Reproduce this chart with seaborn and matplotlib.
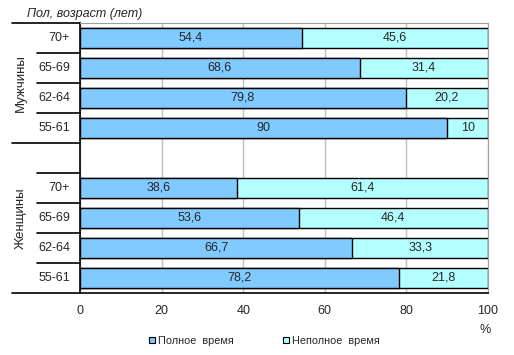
#!/usr/bin/env python3

# plot.py
#
# Stacked horizontal bars: full vs part time employment by sex and age.
import matplotlib
matplotlib.use('Agg')
import matplotlib.pyplot as plt
import matplotlib.patches as mpatches
import pandas as pd
import seaborn as sb

# Data, top to bottom as drawn
groups = ['Мужчины', 'Мужчины', 'Мужчины', 'Мужчины',
          'Женщины', 'Женщины', 'Женщины', 'Женщины']
ages = ['70+', '65-69', '62-64', '55-61', '70+', '65-69', '62-64', '55-61']
fulltime = [54.4, 68.6, 79.8, 90.0, 38.6, 53.6, 66.7, 78.2]
parttime = [45.6, 31.4, 20.2, 10.0, 61.4, 46.4, 33.3, 21.8]
xticks = [0, 20, 40, 60, 80, 100]

title = 'Пол, возраст (лет)'
legend_labels = ['Полное  время', 'Неполное  время']
FULL, PART = '#80CAFF', '#B3FFFF'


def fmt(value):
    text = '{:g}'.format(value)
    return text.replace('.', ',')


def main(imagefile='out.png'):
    # Build the frame, a blank slot separates the two groups
    keys = ['{} {}'.format(g, a) for g, a in zip(groups, ages)]
    data = pd.DataFrame({'key': keys, 'full': fulltime, 'part': parttime})
    data['total'] = data['full'] + data['part']
    order = keys[:4] + ['gap'] + keys[4:]

    sb.set_style('white')
    plt.rcParams['font.family'] = ['Liberation Sans', 'DejaVu Sans']
    figure = plt.figure(figsize=(5.14, 3.55), dpi=100)
    W, H = 514.0, 355.0
    left, right, top, bottom = 80, 488, 23, 293
    axis = figure.add_axes([left / W, 1 - bottom / H, (right - left) / W, (bottom - top) / H])

    # Stacked bars: total in light colour, full time on top of it
    sb.barplot(data=data, x='total', y='key', order=order, color=PART, width=0.667,
               edgecolor='black', linewidth=1, saturation=1, ax=axis, zorder=2)
    sb.barplot(data=data, x='full', y='key', order=order, color=FULL, width=0.667,
               edgecolor='black', linewidth=1, saturation=1, ax=axis, zorder=3)

    # Value labels
    for _, row in data.iterrows():
        ndx = order.index(row['key'])
        axis.text(row['full'] / 2, ndx, fmt(row['full']), ha='center', va='center',
                  fontsize=9, zorder=4)
        axis.text(row['full'] + row['part'] / 2, ndx, fmt(row['part']), ha='center',
                  va='center', fontsize=9, zorder=4)

    # Axes formatting
    axis.set_xlim(0, 100)
    axis.set_ylim(len(order) - 0.5, -0.5)
    axis.set_xticks(xticks)
    axis.set_xticklabels([str(x) for x in xticks], fontsize=9)
    axis.tick_params(axis='x', length=0, pad=9)
    axis.set_yticks([])
    axis.set_xlabel('')
    axis.set_ylabel('')
    axis.grid(axis='x', color='#C0C0C0', linewidth=1, zorder=0)
    axis.set_axisbelow(True)
    for side in ['top', 'right']:
        axis.spines[side].set_color('#A0A0A0')
    for side in ['left', 'bottom']:
        axis.spines[side].set_color('black')
        axis.spines[side].set_linewidth(1.2)

    # Category labels and separators on the left
    trans = axis.get_yaxis_transform()
    long_x = (12 - left) / (right - left)
    short_x = (37 - left) / (right - left)
    for y in [-0.5, 3.5, len(order) - 0.5]:
        axis.plot([long_x, 0], [y, y], color='black', lw=1.2, transform=trans, clip_on=False)
    for y in [0.5, 1.5, 2.5, 4.5, 5.5, 6.5, 7.5]:
        axis.plot([short_x, 0], [y, y], color='black', lw=1.2, transform=trans, clip_on=False)
    label_x = (70 - left) / (right - left)
    for key, age in zip(keys, ages):
        axis.text(label_x, order.index(key), age, ha='right', va='center', fontsize=9,
                  transform=trans)
    group_x = (21 - left) / (right - left)
    axis.text(group_x, 1.5, groups[0], rotation=90, ha='center', va='center', fontsize=9.5,
              transform=trans)
    axis.text(group_x, 6.0, groups[4], rotation=90, ha='center', va='center', fontsize=9.5,
              transform=trans)

    # Title, unit and legend
    figure.text(27 / W, 1 - 14 / H, title, style='italic', fontsize=9, va='center')
    figure.text(485 / W, 1 - 330 / H, '%', fontsize=9, ha='center', va='center')
    handles = [mpatches.Patch(facecolor=FULL, edgecolor='black', linewidth=0.8),
               mpatches.Patch(facecolor=PART, edgecolor='black', linewidth=0.8)]
    figure.legend(handles, legend_labels, loc='center left', bbox_to_anchor=(149 / W, 1 - 341 / H),
                  ncol=2, frameon=False, fontsize=7.8, handlelength=0.55, handleheight=0.55,
                  handletextpad=0.25, columnspacing=4.6, borderaxespad=0, borderpad=0)

    plt.savefig(imagefile, dpi=100)
    plt.close()


if __name__ == '__main__':
    main()
